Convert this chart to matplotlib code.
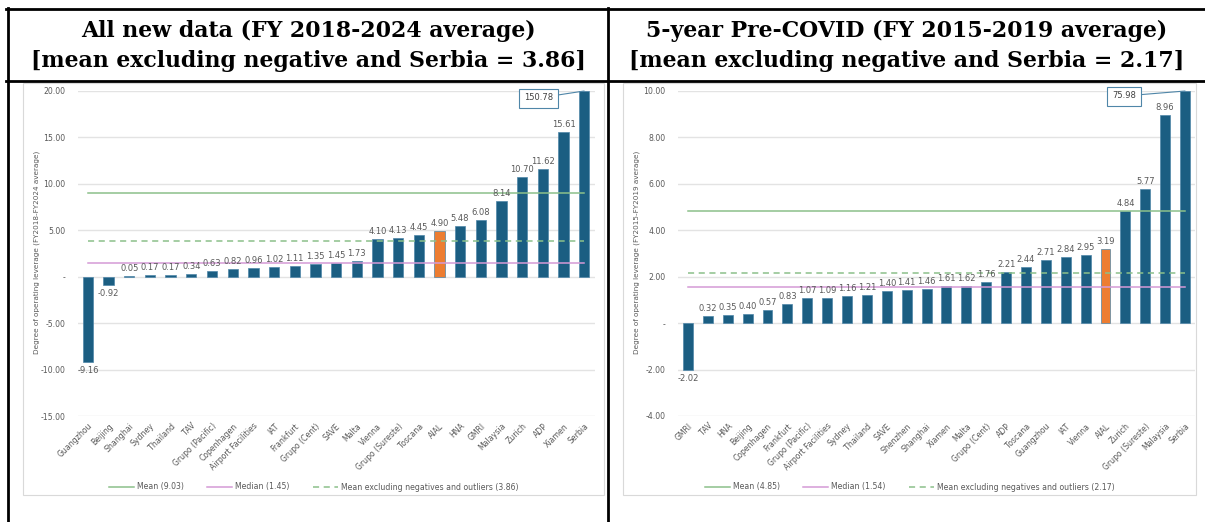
import matplotlib
matplotlib.use("Agg")
import matplotlib.pyplot as plt
from matplotlib.lines import Line2D
from matplotlib.patches import Rectangle

# ---------------- data ----------------
left_categories = ["Guangzhou", "Beijing", "Shanghai", "Sydney", "Thailand", "TAV",
                   "Grupo (Pacific)", "Copenhagen", "Airport Facilities", "IAT", "Frankfurt",
                   "Grupo (Cent)", "SAVE", "Malta", "Vienna", "Grupo (Sureste)", "Toscana",
                   "AIAL", "HNA", "GMRI", "Malaysia", "Zurich", "ADP", "Xiamen", "Serbia"]
left_values = [-9.16, -0.92, 0.05, 0.17, 0.17, 0.34, 0.63, 0.82, 0.96, 1.02, 1.11,
               1.35, 1.45, 1.73, 4.10, 4.13, 4.45, 4.90, 5.48, 6.08, 8.14, 10.70,
               11.62, 15.61, 150.78]
left_mean = 9.03
left_median = 1.45
left_mean_excl = 3.86

right_categories = ["GMRI", "TAV", "HNA", "Beijing", "Copenhagen", "Frankfurt",
                    "Grupo (Pacific)", "Airport Facilities", "Sydney", "Thailand", "SAVE",
                    "Shenzhen", "Shanghai", "Xiamen", "Malta", "Grupo (Cent)", "ADP",
                    "Toscana", "Guangzhou", "IAT", "Vienna", "AIAL", "Zurich",
                    "Grupo (Sureste)", "Malaysia", "Serbia"]
right_values = [-2.02, 0.32, 0.35, 0.40, 0.57, 0.83, 1.07, 1.09, 1.16, 1.21, 1.40,
                1.41, 1.46, 1.61, 1.62, 1.76, 2.21, 2.44, 2.71, 2.84, 2.95, 3.19,
                4.84, 5.77, 8.96, 75.98]
right_mean = 4.85
right_median = 1.54
right_mean_excl = 2.17

left_ticks = [-15, -10, -5, 0, 5, 10, 15, 20]
right_ticks = [-4, -2, 0, 2, 4, 6, 8, 10]

left_title = "All new data (FY 2018-2024 average)\n[mean excluding negative and Serbia = 3.86]"
right_title = "5-year Pre-COVID (FY 2015-2019 average)\n[mean excluding negative and Serbia = 2.17]"
left_ylabel = "Degree of operating leverage (FY2018-FY2024 average)"
right_ylabel = "Degree of operating leverage (FY2015-FY2019 average)"

# ---------------- style ----------------
W, H = 1205, 522
BAR = "#1B5E82"
BAR_EDGE = "#4F86A8"
HIGHLIGHT = "#ED7D31"
MEAN_C = "#8CC08A"
MED_C = "#D59AD6"
GRID = "#E3E3E3"
TXT = "#595959"

fig = plt.figure(figsize=(W / 100, H / 100), dpi=100)
fig.patch.set_facecolor("white")


def fx(px):
    return px / W


def fy(py):
    return 1 - py / H


def fmt(v):
    return "-" if v == 0 else f"{v:.2f}"


def draw_panel(x0, x1, cats, vals, mean, median, mean_excl, ticks, ylabel,
               box, cap_offset, label_x):
    ax = fig.add_axes([fx(x0), fy(416), fx(x1 - x0), (416 - 91) / H])
    n = len(cats)
    xs = list(range(n))
    lo, hi = ticks[0], ticks[-1]
    colors = [HIGHLIGHT if c == "AIAL" else BAR for c in cats]
    shown = [min(v, hi) for v in vals]
    ax.bar(xs, shown, width=0.5, color=colors, edgecolor=BAR_EDGE,
           linewidth=0.5, zorder=3)
    ax.plot(xs, [mean] * n, color=MEAN_C, lw=1.1, zorder=4,
            label=f"Mean ({mean:.2f})")
    ax.plot(xs, [median] * n, color=MED_C, lw=1.1, zorder=4,
            label=f"Median ({median:.2f})")
    ax.plot(xs, [mean_excl] * n, color=MEAN_C, lw=1.1, ls=(0, (4, 3)), zorder=4,
            label=f"Mean excluding negatives and outliers ({mean_excl:.2f})")

    ax.set_xlim(-0.5, n - 0.5)
    ax.set_ylim(lo, hi)
    ax.set_yticks(ticks)
    ax.set_yticklabels([fmt(t) for t in ticks], fontsize=5.6, color=TXT)
    ax.set_xticks(xs)
    ax.set_xticklabels(cats, rotation=45, ha="right", rotation_mode="anchor",
                       fontsize=5.6, color=TXT)
    ax.tick_params(length=0, pad=9, axis="y")
    ax.tick_params(length=0, pad=4, axis="x")
    for s in ax.spines.values():
        s.set_visible(False)
    ax.grid(axis="y", color=GRID, lw=1.0, zorder=0)
    ax.set_axisbelow(True)

    for x, v in zip(xs, vals):
        if v > hi:
            continue
        if v >= 0:
            ax.annotate(f"{v:.2f}", (x, v), xytext=(0, 3), textcoords="offset pixels",
                        ha="center", va="bottom", fontsize=6, color=TXT, zorder=5)
        else:
            ax.annotate(f"{v:.2f}", (x, v), xytext=(0, -4), textcoords="offset pixels",
                        ha="center", va="top", fontsize=6, color=TXT, zorder=5)

    # clipped outlier: value shown in a callout box
    big = [(x, v) for x, v in zip(xs, vals) if v > hi]
    for x, v in big:
        ax.annotate(f"{v:.2f}", (x, hi), xytext=cap_offset, textcoords="offset pixels",
                    ha="center", va="center", fontsize=6, color="#404040",
                    bbox=dict(boxstyle="square,pad=0.6", fc="white", ec="#4F86A8", lw=0.8),
                    arrowprops=dict(arrowstyle="-", color="#4F86A8", lw=0.8,
                                    shrinkA=0, shrinkB=0),
                    zorder=6, annotation_clip=False)

    fig.text(fx(label_x), fy(252), ylabel, rotation=90, ha="center", va="center",
             fontsize=5.2, color=TXT)

    # chart frame
    bx0, by0, bx1, by1 = box
    fig.add_artist(Rectangle((fx(bx0), fy(by1)), fx(bx1 - bx0), (by1 - by0) / H,
                             fill=False, ec="#D9D9D9", lw=0.8, transform=fig.transFigure))

    leg = fig.legend(handles=ax.get_lines(), loc="center",
                     bbox_to_anchor=(fx((bx0 + bx1) / 2), fy(487)), ncol=3,
                     frameon=False, fontsize=5.6, handlelength=3.2,
                     columnspacing=3.0, handletextpad=0.4)
    for t in leg.get_texts():
        t.set_color(TXT)
    return ax


draw_panel(77.6, 594.5, left_categories, left_values, left_mean, left_median,
           left_mean_excl, left_ticks, left_ylabel, (23, 83, 604, 495), (-46, -7), 37)
draw_panel(678, 1195, right_categories, right_values, right_mean, right_median,
           right_mean_excl, right_ticks, right_ylabel, (623, 83, 1196, 495), (-61, -5), 637)

# ---------------- table frame & headings ----------------
lw = 2.0
fig.add_artist(Line2D([fx(6), fx(W)], [fy(9), fy(9)], color="black", lw=lw))
fig.add_artist(Line2D([fx(6), fx(W)], [fy(81), fy(81)], color="black", lw=lw))
fig.add_artist(Line2D([fx(8), fx(8)], [fy(8), fy(H)], color="black", lw=lw))
fig.add_artist(Line2D([fx(608), fx(608)], [fy(8), fy(H)], color="black", lw=lw))

fig.text(fx(308), fy(46), left_title, ha="center", va="center", fontsize=15.8,
         fontweight="bold", family="DejaVu Serif", linespacing=1.5)
fig.text(fx(907), fy(46), right_title, ha="center", va="center", fontsize=15.8,
         fontweight="bold", family="DejaVu Serif", linespacing=1.5)

fig.savefig("out.png", dpi=100, facecolor="white")
